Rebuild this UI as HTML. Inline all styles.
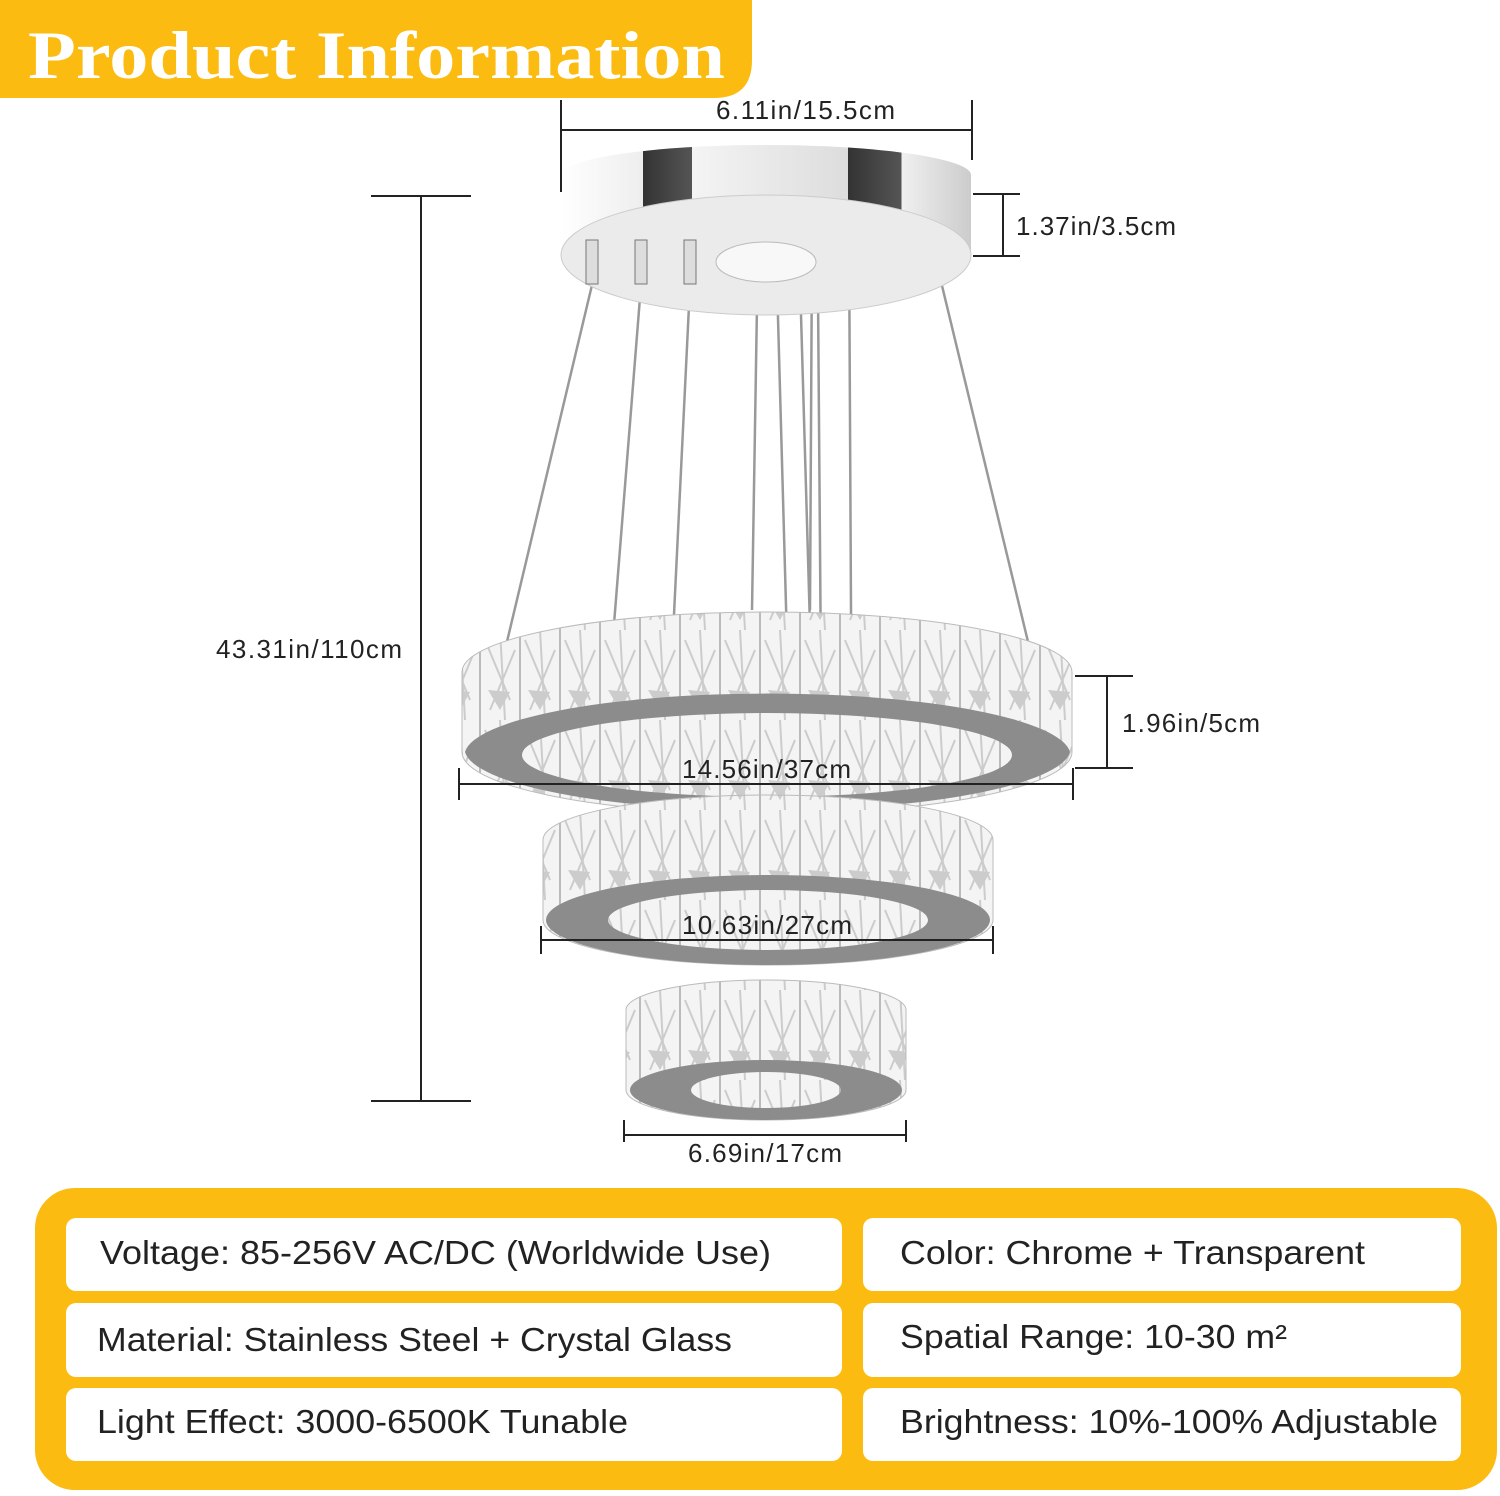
<!DOCTYPE html>
<html><head><meta charset="utf-8"><style>
body{margin:0;background:#fff;width:1500px;height:1496px;overflow:hidden}
svg{display:block}
</style></head><body>
<svg width="1500" height="1496" viewBox="0 0 1500 1496" xmlns="http://www.w3.org/2000/svg" font-family="Liberation Sans, sans-serif">
<defs>
<linearGradient id="band" x1="0" x2="1">
<stop offset="0" stop-color="#fff"/><stop offset="0.2" stop-color="#eee"/><stop offset="0.2" stop-color="#333"/><stop offset="0.32" stop-color="#555"/><stop offset="0.32" stop-color="#f4f4f4"/><stop offset="0.7" stop-color="#ddd"/><stop offset="0.7" stop-color="#333"/><stop offset="0.83" stop-color="#555"/><stop offset="0.83" stop-color="#f0f0f0"/><stop offset="1" stop-color="#ccc"/>
</linearGradient>
<pattern id="cr" width="40" height="90" patternUnits="userSpaceOnUse">
<rect width="40" height="90" fill="#f4f4f4"/><path d="M0 0V90M40 0V90" stroke="#bbb" stroke-width="2"/><path d="M5 10L30 70M35 20L10 80M20 0L25 90" stroke="#ccc" stroke-width="2"/><path d="M8 60L20 80L30 62Z" fill="#ccc"/>
</pattern>
</defs>
<path d="M0 0H752V60Q752 98 714 98H0Z" fill="#fbbb10"/>
<text x="28" y="78" font-family="Liberation Serif, serif" font-weight="bold" font-size="68" fill="#fff" textLength="697" lengthAdjust="spacingAndGlyphs">Product Information</text>
<g stroke="#999" stroke-width="2.5">
<line x1="592" y1="285" x2="505" y2="650"/><line x1="641" y1="285" x2="600" y2="800"/>
<line x1="690" y1="285" x2="665" y2="800"/><line x1="757" y1="305" x2="752" y2="610"/>
<line x1="775" y1="210" x2="790" y2="750"/><line x1="800" y1="280" x2="815" y2="800"/>
<line x1="812" y1="245" x2="810" y2="610"/><line x1="818" y1="295" x2="822" y2="800"/>
<line x1="849" y1="230" x2="852" y2="800"/><line x1="937" y1="265" x2="1030" y2="650"/>
</g>
<path d="M561 175A205 30 0 0 1 971 175V255A205 60 0 0 1 561 255Z" fill="url(#band)"/>
<ellipse cx="766" cy="255" rx="205" ry="60" fill="#ebebeb" stroke="#ccc"/>
<ellipse cx="766" cy="262" rx="50" ry="20" fill="#f8f8f8" stroke="#bbb"/>
<g fill="#ddd" stroke="#777"><rect x="586" y="240" width="12" height="44"/><rect x="635" y="240" width="12" height="44"/><rect x="684" y="240" width="12" height="44"/></g>
<path d="M462 672A305 60 0 0 1 1072 672V752A305 62 0 0 1 462 752Z" fill="url(#cr)" stroke="#bbb"/>
<path d="M465 752A303 62 0 0 0 1070 752A303 62 0 0 0 465 752ZM522 755A245 42 0 0 1 1012 755A245 42 0 0 1 522 755Z" fill="#8c8c8c" fill-rule="evenodd"/>
<path d="M543 840A225 45 0 0 1 993 840V920A225 45 0 0 1 543 920Z" fill="url(#cr)" stroke="#bbb"/>
<path d="M546 920A222 45 0 0 0 990 920A222 45 0 0 0 546 920ZM608 920A160 30 0 0 1 928 920A160 30 0 0 1 608 920Z" fill="#8c8c8c" fill-rule="evenodd"/>
<path d="M626 1010A140 30 0 0 1 906 1010V1090A140 30 0 0 1 626 1090Z" fill="url(#cr)" stroke="#bbb"/>
<path d="M630 1090A136 30 0 0 0 902 1090A136 30 0 0 0 630 1090ZM691 1090A75 18 0 0 1 841 1090A75 18 0 0 1 691 1090Z" fill="#8c8c8c" fill-rule="evenodd"/>
<g stroke="#222" stroke-width="2" fill="none">
<path d="M561 130H972M561 100V192M972 100V160"/>
<path d="M421 196V1101M371 196H471M371 1101H471"/>
<path d="M1003 194V256M973 194H1020M973 256H1020"/>
<path d="M1107 676V768M1075 676H1133M1075 768H1133"/>
<path d="M459 784H1073M459 768V800M1073 768V800"/>
<path d="M541 940H993M541 926V954M993 926V954"/>
<path d="M624 1135H906M624 1120V1142M906 1120V1142"/>
</g>
<g font-size="26" fill="#222" lengthAdjust="spacingAndGlyphs">
<text x="716" y="119" textLength="179">6.11in/15.5cm</text>
<text x="1016" y="235" textLength="160">1.37in/3.5cm</text>
<text x="216" y="658" textLength="186">43.31in/110cm</text>
<text x="1122" y="732" textLength="138">1.96in/5cm</text>
<text x="682" y="778" textLength="169">14.56in/37cm</text>
<text x="682" y="934" textLength="170">10.63in/27cm</text>
<text x="688" y="1162" textLength="154">6.69in/17cm</text>
</g>
<rect x="35" y="1188" width="1462" height="302" rx="40" fill="#fbbb10"/>
<g fill="#fff">
<rect x="66" y="1218" width="776" height="73" rx="10"/><rect x="863" y="1218" width="598" height="73" rx="10"/>
<rect x="66" y="1303" width="776" height="74" rx="10"/><rect x="863" y="1303" width="598" height="74" rx="10"/>
<rect x="66" y="1388" width="776" height="73" rx="10"/><rect x="863" y="1388" width="598" height="73" rx="10"/>
</g>
<g font-size="33" fill="#222">
<text x="100" y="1264" textLength="671" lengthAdjust="spacingAndGlyphs">Voltage: 85-256V AC/DC (Worldwide Use)</text>
<text x="900" y="1264" textLength="465" lengthAdjust="spacingAndGlyphs">Color: Chrome + Transparent</text>
<text x="97" y="1351" textLength="635" lengthAdjust="spacingAndGlyphs">Material: Stainless Steel + Crystal Glass</text>
<text x="900" y="1348" textLength="387" lengthAdjust="spacingAndGlyphs">Spatial Range: 10-30 m²</text>
<text x="97" y="1433" textLength="531" lengthAdjust="spacingAndGlyphs">Light Effect: 3000-6500K Tunable</text>
<text x="900" y="1433" textLength="538" lengthAdjust="spacingAndGlyphs">Brightness: 10%-100% Adjustable</text>
</g>
</svg>
</body></html>
